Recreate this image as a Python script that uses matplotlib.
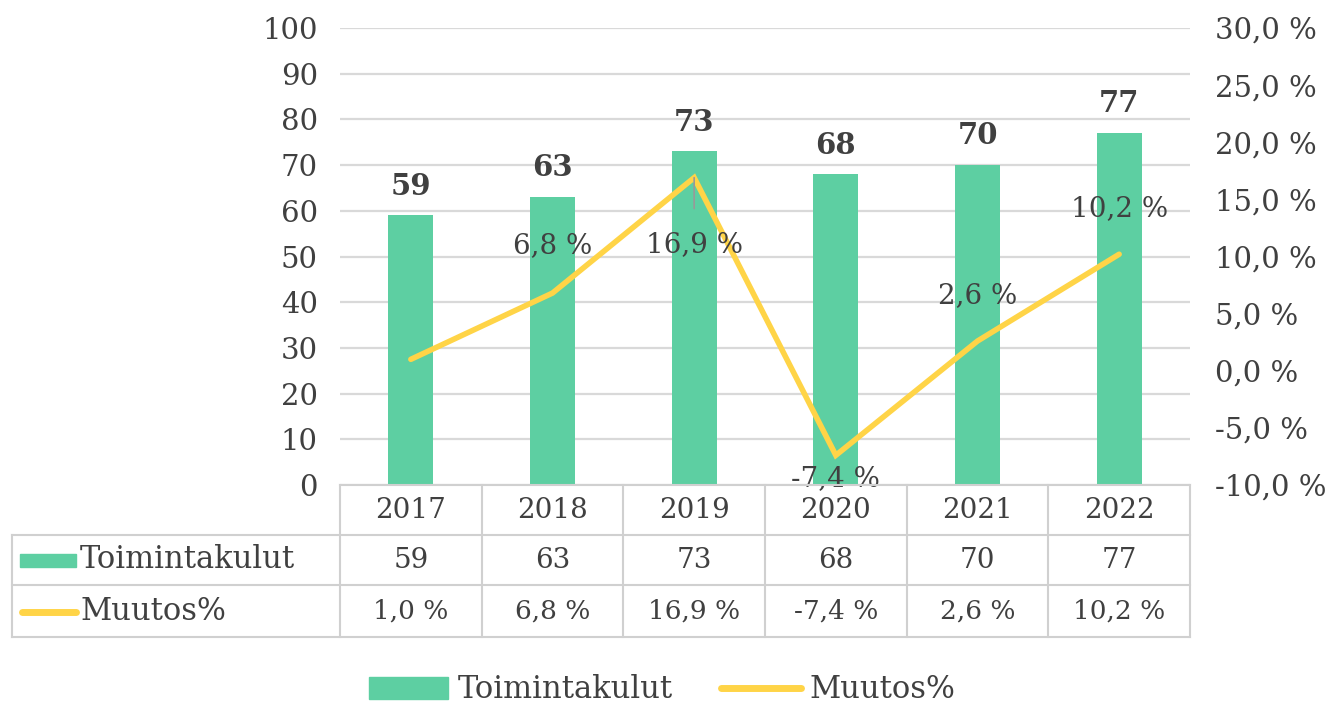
import matplotlib.pyplot as plt
from matplotlib.lines import Line2D
from matplotlib.patches import Patch, Rectangle
from matplotlib.transforms import blended_transform_factory

years = ["2017", "2018", "2019", "2020", "2021", "2022"]
toimintakulut = [59, 63, 73, 68, 70, 77]
muutos = [1.0, 6.8, 16.9, -7.4, 2.6, 10.2]
left_ticks = [0, 10, 20, 30, 40, 50, 60, 70, 80, 90, 100]
right_ticks = [-10, -5, 0, 5, 10, 15, 20, 25, 30]

GREEN = "#5DCFA2"
YELLOW = "#FFD447"
TXT = "#404040"
GRID = "#D9D9D9"
FONT = "DejaVu Serif"
FS = 19      # table / line labels
FS_TICK = 21

plt.rcParams["font.family"] = FONT


def pct(v):
    return f"{v:.1f} %".replace(".", ",")


W, H = 1338, 704
fig = plt.figure(figsize=(W / 100, H / 100), dpi=100)
ax = fig.add_axes([340 / W, 1 - 485 / H, 850 / W, 457 / H])

x = list(range(len(years)))
ax.bar(x, toimintakulut, width=0.32, color=GREEN, zorder=2)
ax.set_xlim(-0.5, len(years) - 0.5)
ax.set_ylim(0, 100)
ax.set_yticks(left_ticks)
ax.set_xticks([])
ax.yaxis.grid(True, color=GRID, lw=1.6)
ax.set_axisbelow(True)
ax.tick_params(axis="y", length=0, pad=16, labelsize=FS_TICK, labelcolor=TXT)
for s in ax.spines.values():
    s.set_visible(False)

# bar value labels
for xi, v in zip(x, toimintakulut):
    ax.annotate(str(v), (xi, v), xytext=(0, 21), textcoords="offset points",
                ha="center", va="center", fontsize=FS_TICK, fontweight="bold", color=TXT)

ax2 = ax.twinx()
ax2.plot(x, muutos, color=YELLOW, lw=4, solid_capstyle="round", solid_joinstyle="miter", zorder=3)
ax2.set_ylim(-10, 30)
ax2.set_yticks(right_ticks)
ax2.set_yticklabels([pct(t) for t in right_ticks])
ax2.tick_params(axis="y", length=0, pad=18, labelsize=FS_TICK, labelcolor=TXT)
for s in ax2.spines.values():
    s.set_visible(False)

# line labels (2017 has none in the original)
offsets = [None, 34, -48, -17, 33, 33]
for xi, v, off in zip(x, muutos, offsets):
    if off is None:
        continue
    arrow = None
    if xi == 2:
        arrow = dict(arrowstyle="-", color="#999999", lw=1.2, shrinkA=14, shrinkB=0)
    ax2.annotate(pct(v), (xi, v), xytext=(0, off), textcoords="offset points",
                 ha="center", va="center", fontsize=FS + 1, color=TXT, arrowprops=arrow)

# data table under the plot
tr = blended_transform_factory(ax.transData, fig.transFigure)
rows_y = [485, 535, 585, 637]
fy = [1 - r / H for r in rows_y]
LINE = "#D0D0D0"
lw = 1.5
left = -0.5
right = len(years) - 0.5
fig.add_artist(Line2D([left, right], [fy[0], fy[0]], transform=tr, color=LINE, lw=lw))
for yy in fy[1:]:
    fig.add_artist(Line2D([12 / W, 1190 / W], [yy, yy], transform=fig.transFigure, color=LINE, lw=lw))
for b in range(len(years) + 1):
    fig.add_artist(Line2D([b - 0.5, b - 0.5], [fy[0], fy[3]], transform=tr, color=LINE, lw=lw))
fig.add_artist(Line2D([12 / W, 12 / W], [fy[1], fy[3]], transform=fig.transFigure, color=LINE, lw=lw))

for xi in x:
    fig.text(xi, (fy[0] + fy[1]) / 2, years[xi], transform=tr, ha="center", va="center",
             fontsize=FS + 1, color=TXT)
    fig.text(xi, (fy[1] + fy[2]) / 2, str(toimintakulut[xi]), transform=tr, ha="center",
             va="center", fontsize=FS + 1, color=TXT)
    fig.text(xi, (fy[2] + fy[3]) / 2, pct(muutos[xi]), transform=tr, ha="center",
             va="center", fontsize=FS, color=TXT)

# series keys in the table
fig.add_artist(Rectangle((20 / W, 1 - 567 / H), 56 / W, 13 / H, transform=fig.transFigure,
                         color=GREEN))
fig.text(80 / W, (fy[1] + fy[2]) / 2, "Toimintakulut", ha="left", va="center",
         fontsize=FS + 3, color=TXT)
fig.add_artist(Line2D([22 / W, 76 / W], [1 - 612 / H, 1 - 612 / H], transform=fig.transFigure,
                      color=YELLOW, lw=5, solid_capstyle="round"))
fig.text(80 / W, (fy[2] + fy[3]) / 2, "Muutos%", ha="left", va="center",
         fontsize=FS + 3, color=TXT)

handles = [Patch(color=GREEN), Line2D([], [], color=YELLOW, lw=5, solid_capstyle="round")]
fig.legend(handles, ["Toimintakulut", "Muutos%"], loc="center", bbox_to_anchor=(0.495, 1 - 690 / H),
           ncol=2, frameon=False, fontsize=FS + 3, handlelength=2.6, handletextpad=0.3,
           columnspacing=1.6, labelcolor=TXT)

fig.savefig("out.png", dpi=100)
